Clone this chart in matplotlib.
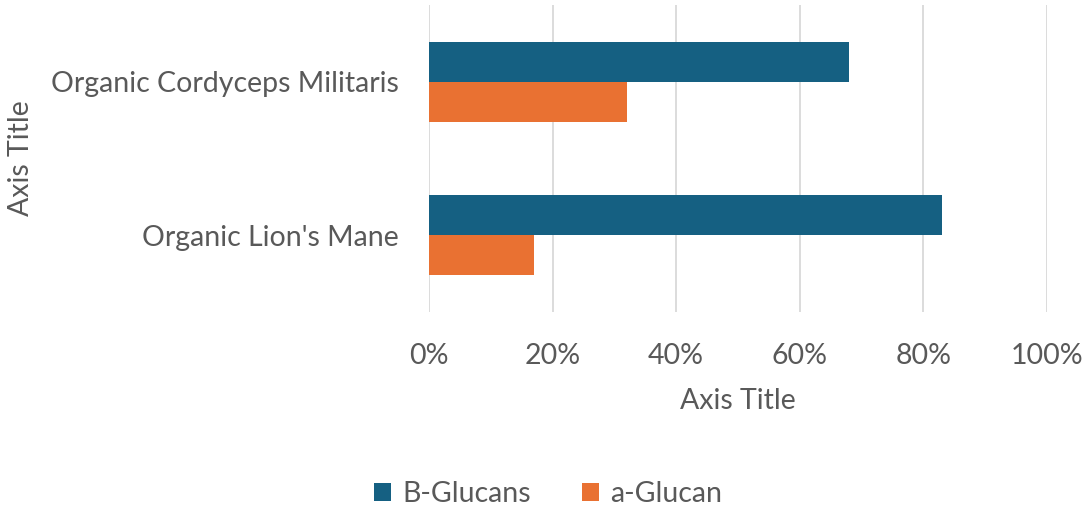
import matplotlib
matplotlib.use("Agg")
import matplotlib.pyplot as plt
from matplotlib.ticker import PercentFormatter
import numpy as np

categories = ["Organic Lion's Mane", "Organic Cordyceps Militaris"]
b_glucans = [0.83, 0.68]
a_glucan = [0.17, 0.32]
series_names = ["B-Glucans", "a-Glucan"]
xticks = [0, 0.2, 0.4, 0.6, 0.8, 1.0]

BLUE = "#156082"
ORANGE = "#E97132"
TEXT = "#595959"
GRID = "#D9D9D9"
FS = 20.5

plt.rcParams['font.family'] = ['Lato', 'DejaVu Sans']

fig = plt.figure(figsize=(10.86, 5.12), dpi=100)
ax = fig.add_axes([429/1086, 1-312/512, (1047-429)/1086, (312-5)/512])

y = np.arange(len(categories))
h = 0.26
ax.barh(y + h/2, b_glucans, height=h, color=BLUE, label=series_names[0], zorder=3)
ax.barh(y - h/2, a_glucan, height=h, color=ORANGE, label=series_names[1], zorder=3)

ax.set_xlim(0, 1.0)
ax.set_ylim(-0.5, 1.5)
ax.set_xticks(xticks)
ax.xaxis.set_major_formatter(PercentFormatter(1.0, decimals=0))
ax.set_yticks(y)
ax.set_yticklabels(categories)
ax.grid(axis='x', color=GRID, linewidth=1.3, zorder=0)
for s in ax.spines.values():
    s.set_visible(False)
ax.tick_params(axis='both', length=0, labelsize=FS, labelcolor=TEXT)
ax.tick_params(axis='x', pad=22)
ax.tick_params(axis='y', pad=22)
ax.set_xlabel("Axis Title", fontsize=FS, color=TEXT, labelpad=14)
ax.set_ylabel("Axis Title", fontsize=FS, color=TEXT, labelpad=12)

handles, labels = ax.get_legend_handles_labels()
fig.legend(handles, labels, loc='center', bbox_to_anchor=(548/1086, 1-494/512),
           ncol=2, frameon=False, fontsize=FS, labelcolor=TEXT,
           handlelength=0.6, handleheight=0.6, handletextpad=0.4, columnspacing=1.8)

fig.savefig("out.png", dpi=100)
